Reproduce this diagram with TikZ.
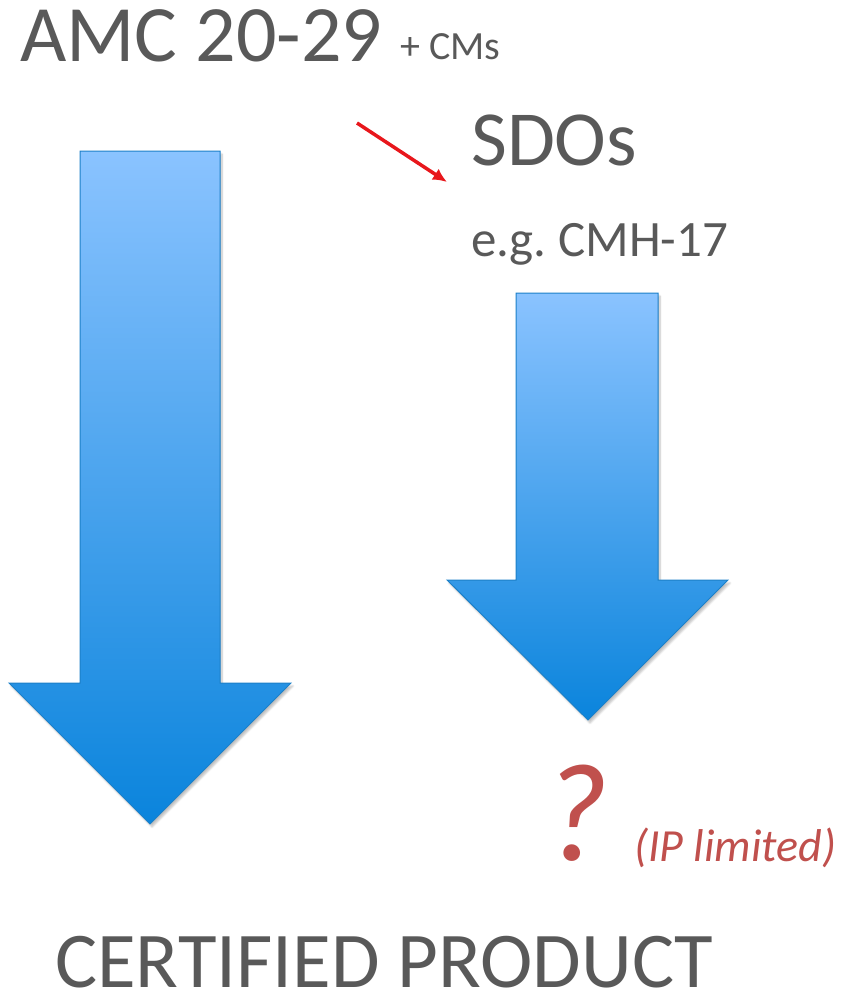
\documentclass[tikz,border=0pt]{standalone}
\usepackage{fontspec}
\setmainfont{Carlito}
\frenchspacing
\usetikzlibrary{shadows.blur,arrows.meta}
\definecolor{txtgray}{HTML}{595959}
\definecolor{qred}{HTML}{C0504D}
\definecolor{ptred}{HTML}{E8171C}
\definecolor{blueTop}{RGB}{138,195,255}
\definecolor{blueBot}{RGB}{10,132,220}
\definecolor{blueEdge}{RGB}{28,128,200}
\tikzset{
  bigarrow/.style={draw=blueEdge, line width=1pt, line join=miter,
    top color=blueTop, bottom color=blueBot,
    blur shadow={shadow xshift=2pt, shadow yshift=-3pt, shadow opacity=25, shadow blur steps=6}},
  label/.style={text=txtgray, inner sep=0pt, anchor=base west},
  pointer/.style={draw=ptred, line width=3.5pt, -{Latex[length=14pt,width=13pt]}}
}
\begin{document}
\begin{tikzpicture}[x=1pt,y=-1pt]
\useasboundingbox (0,0) rectangle (848,999);

% headings and labels
\node[label, font=\fontsize{80}{84}\selectfont] (amc) at (20,61) {AMC 20-29};
\node[label, font=\fontsize{40}{44}\selectfont] (cms) at (400,59) {+ CMs};
\node[label, font=\fontsize{78}{82}\selectfont] (sdo) at (471,165) {SDOs};
\node[label, font=\fontsize{51}{54}\selectfont] (eg) at (471,256) {e.g.\ CMH-17};
\node[label, text depth=0pt, font=\fontsize{79}{82}\selectfont] (cert) at (55,987) {CERTIFIED PRODUCT};
\node[label, text=qred, font=\itshape\fontsize{140}{144}\selectfont] (q) at (543,860) {?};
\node[label, text=qred, font=\itshape\fontsize{46}{50}\selectfont] (ip) at (634,861) {(IP limited)};

% large block arrow
\path[bigarrow] (80,151) -- (220,151) -- (220,683) -- (291,683) -- (150,824)
  -- (9,683) -- (80,683) -- cycle;

% smaller block arrow
\path[bigarrow] (516,293) -- (658,293) -- (658,580) -- (728,580) -- (588,720)
  -- (447,580) -- (516,580) -- cycle;

% red pointer
\coordinate (ps) at (357,123);
\coordinate (pe) at (447,182);
\draw[pointer] (ps) -- (pe);
\end{tikzpicture}
\end{document}
